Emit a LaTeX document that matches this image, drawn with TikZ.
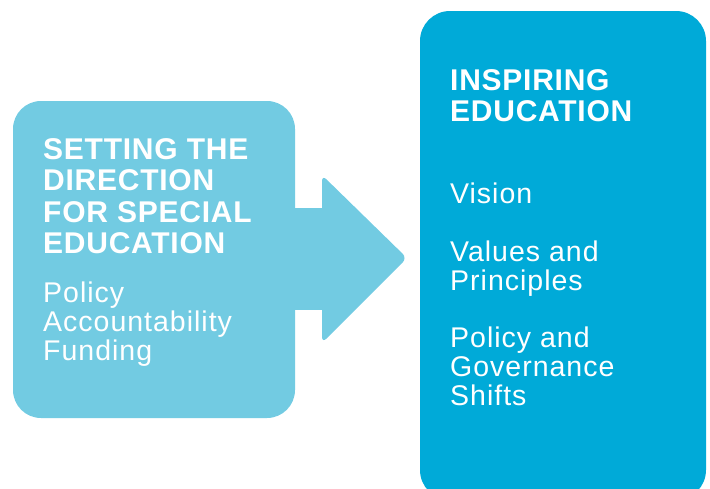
\documentclass[tikz,border=0pt]{standalone}
\usepackage{fontspec}
\setmainfont{Liberation Sans}
\newfontfamily\headfont[LetterSpace=2.5]{Liberation Sans}
\newfontfamily\bodyfont[LetterSpace=3.5]{Liberation Sans}
\definecolor{lightblue}{RGB}{114,203,226}
\definecolor{deepblue}{RGB}{0,170,216}
\tikzset{
  headtext/.style={text=white, align=left, inner sep=0pt, anchor=base west,
    font={\headfont\bfseries\fontsize{30}{31.3}\selectfont}},
  bodytext/.style={text=white, align=left, inner sep=0pt, anchor=base west,
    font={\bodyfont\fontsize{28.5}{28.8}\selectfont}}
}
\begin{document}
\begin{tikzpicture}[x=1pt,y=-1pt]
\useasboundingbox (0,0) rectangle (710,488);
\clip (0,0) rectangle (710,488);
% left box
\fill[lightblue, rounded corners=28pt] (13,101) rectangle (295,418);
% arrow
\fill[lightblue] (290,208) rectangle (323,310);
\fill[lightblue, rounded corners=6pt] (322,175) -- (407,258) -- (322,343) -- cycle;
% right box
\fill[deepblue, rounded corners=30pt] (420,11) rectangle (706,500);
% texts (anchored at the baseline of the last line)
\node[headtext] (lefthead) at (43,253.3) {SETTING THE\\DIRECTION\\FOR SPECIAL\\EDUCATION};
\node[bodytext] (leftbody) at (43,360) {Policy\\Accountability\\Funding};
\node[headtext] (righthead) at (450,121.7) {INSPIRING\\EDUCATION};
\node[bodytext] (rightbody) at (450,405.5) {Vision\\[28.8pt]Values and\\Principles\\[28.8pt]Policy and\\Governance\\Shifts};
\end{tikzpicture}
\end{document}
